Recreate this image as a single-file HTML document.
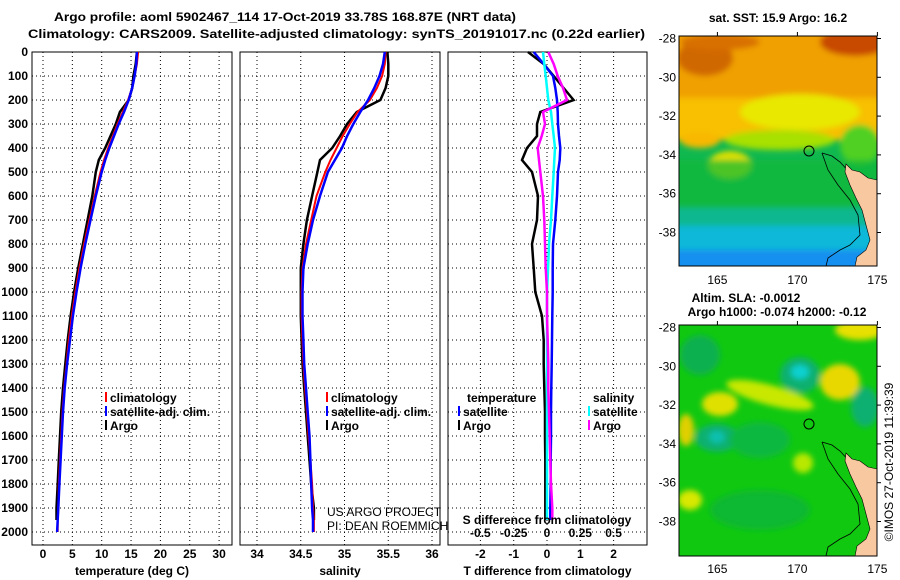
<!DOCTYPE html>
<html><head><meta charset="utf-8"><style>
html,body{margin:0;padding:0;background:#fff}
svg{display:block}
text{font-family:"Liberation Sans",sans-serif;font-weight:bold;font-size:12px;fill:#000}
.n{font-weight:normal}
</style></head><body>
<svg id="c" width="900" height="580" viewBox="0 0 900 580" xmlns="http://www.w3.org/2000/svg">
<defs>
<filter id="bl" x="-20%" y="-20%" width="140%" height="140%"><feGaussianBlur stdDeviation="3"/></filter>
<filter id="bl2" x="-20%" y="-20%" width="140%" height="140%"><feGaussianBlur stdDeviation="3"/></filter>
<clipPath id="m1"><rect x="679" y="36" width="198" height="230"/></clipPath>
<clipPath id="m2"><rect x="679" y="325" width="198" height="231"/></clipPath>
</defs>
<text x="285" y="21" text-anchor="middle" textLength="462" lengthAdjust="spacingAndGlyphs">Argo profile: aoml 5902467_114 17-Oct-2019 33.78S 168.87E (NRT data)</text>
<text x="28" y="38" textLength="617" lengthAdjust="spacingAndGlyphs">Climatology: CARS2009. Satellite-adjusted climatology: synTS_20191017.nc (0.22d earlier)</text>
<g id="plots"></g>
<!-- SST map -->
<g clip-path="url(#m1)">
<rect x="679" y="36" width="198" height="230" fill="#10b850"/>
<g filter="url(#bl)">
<rect x="660" y="20" width="240" height="82" fill="#f0a000"/>
<ellipse cx="855" cy="42" rx="35" ry="14" fill="#c84800"/>
<ellipse cx="705" cy="58" rx="28" ry="18" fill="#d06800"/>
<ellipse cx="720" cy="42" rx="40" ry="8" fill="#d87000"/>
<rect x="660" y="98" width="240" height="42" fill="#f8c000"/>
<ellipse cx="800" cy="112" rx="60" ry="18" fill="#e8e800"/>
<ellipse cx="780" cy="140" rx="55" ry="10" fill="#a8e000"/>
<ellipse cx="730" cy="165" rx="22" ry="14" fill="#e0e000"/>
<ellipse cx="700" cy="140" rx="20" ry="8" fill="#f8b800"/>
<ellipse cx="860" cy="145" rx="20" ry="20" fill="#50d020"/>
<rect x="660" y="160" width="240" height="50" fill="#10b838" opacity="0.7"/>
<rect x="660" y="208" width="240" height="22" fill="#10b890"/>
<rect x="660" y="226" width="240" height="50" fill="#10b8d8"/>
<rect x="660" y="250" width="240" height="30" fill="#1890f0"/>
</g>
<path d="M822,153 L832,156 L840,162 L852,175 L865,180 L877,183" fill="none" stroke="#000" stroke-width="0.8"/>
<path d="M822,153 L828,170 L838,185 L850,200 L858,215 L860,235 L850,245 L840,250 L828,258 L826,266" fill="none" stroke="#000" stroke-width="0.8"/>
<path d="M846,164 L852,170 L860,172 L868,178 L877,180 L877,266 L855,266 L857,257 L866,250 L870,240 L866,225 L862,210 L856,198 L850,185 L845,172 Z" fill="#f8c8a0" stroke="#000" stroke-width="0.6"/>
<circle cx="809" cy="151" r="5" fill="none" stroke="#000"/>
</g>
<rect x="679" y="36" width="198" height="230" fill="none" stroke="#000"/>
<!-- SLA map -->
<g clip-path="url(#m2)">
<rect x="679" y="325" width="198" height="231" fill="#10c810"/>
<g filter="url(#bl2)">
<ellipse cx="860" cy="330" rx="25" ry="10" fill="#e8e000"/>
<ellipse cx="840" cy="382" rx="20" ry="18" fill="#e8d800"/>
<ellipse cx="800" cy="375" rx="20" ry="18" fill="#10b070"/>
<ellipse cx="800" cy="372" rx="9" ry="7" fill="#10d0d0"/>
<ellipse cx="770" cy="395" rx="45" ry="10" fill="#c8e800" transform="rotate(15 770 395)"/>
<ellipse cx="720" cy="404" rx="18" ry="12" fill="#e0e000"/>
<ellipse cx="686" cy="430" rx="8" ry="16" fill="#e0d000"/>
<ellipse cx="717" cy="438" rx="22" ry="14" fill="#10b070"/>
<ellipse cx="717" cy="437" rx="8" ry="6" fill="#10c0b0"/>
<ellipse cx="865" cy="407" rx="14" ry="20" fill="#10b070"/>
<ellipse cx="690" cy="500" rx="12" ry="10" fill="#d8e800"/>
<ellipse cx="803" cy="463" rx="10" ry="10" fill="#b8e800"/>
<ellipse cx="760" cy="440" rx="30" ry="18" fill="#10b840"/>
<ellipse cx="760" cy="510" rx="50" ry="20" fill="#10b830"/>
<ellipse cx="700" cy="355" rx="20" ry="20" fill="#10b050"/>
</g>
<path d="M822,442 L832,445 L840,451 L852,464 L865,469 L877,472" fill="none" stroke="#000" stroke-width="0.8"/>
<path d="M822,442 L828,459 L838,474 L850,489 L858,504 L860,524 L850,534 L840,539 L828,547 L826,556" fill="none" stroke="#000" stroke-width="0.8"/>
<path d="M846,453 L852,459 L860,461 L868,467 L877,469 L877,556 L855,556 L857,546 L866,539 L870,529 L866,514 L862,499 L856,487 L850,474 L845,461 Z" fill="#f8c8a0" stroke="#000" stroke-width="0.6"/>
<circle cx="809" cy="424" r="5" fill="none" stroke="#000"/>
</g>
<rect x="679" y="325" width="198" height="231" fill="none" stroke="#000"/>
<g id="maplabels"></g>
<text x="778" y="22" text-anchor="middle">sat. SST: 15.9 Argo: 16.2</text>
<text x="746" y="302" text-anchor="middle">Altim. SLA: -0.0012</text>
<text x="777" y="316" text-anchor="middle">Argo h1000: -0.074 h2000: -0.12</text>
<text class="n" transform="translate(893,462) rotate(-90)" text-anchor="middle" font-size="12">©IMOS 27-Oct-2019 11:39:39</text>
</svg>
<script>
const depths=[0,50,100,150,200,250,300,350,400,450,500,600,700,800,900,1000,1100,1200,1300,1400,1500,1600,1700,1800,1900,1950,2000];
const tempClim=[16.2,16.0,15.6,15.2,14.5,13.6,12.7,11.9,11.1,10.4,9.8,8.8,7.9,7.0,6.2,5.5,4.9,4.4,4.0,3.6,3.3,3.1,2.9,2.7,2.6,2.5,2.5];
const tempSat=[16.0,15.9,15.6,15.2,14.6,13.8,12.9,12.1,11.3,10.6,10.0,9.0,8.1,7.2,6.4,5.7,5.1,4.6,4.1,3.7,3.4,3.2,3.0,2.8,2.6,2.5,2.4];
const tempArgo=[16.0,15.8,15.4,15.2,14.6,13.1,12.4,11.5,10.6,9.5,9.0,8.4,7.6,6.8,6.0,5.3,4.7,4.2,3.8,3.4,3.1,2.9,2.7,2.5,2.3,2.3,null];
const salClim=[35.47,35.46,35.43,35.37,35.29,35.15,35.06,34.98,34.91,34.84,34.78,34.68,34.62,34.56,34.52,34.51,34.51,34.52,34.53,34.55,34.57,34.59,34.61,34.63,34.64,34.65,34.65];
const salSat=[35.46,35.44,35.40,35.34,35.27,35.18,35.10,35.03,34.97,34.89,34.81,34.72,34.64,34.58,34.53,34.52,34.52,34.53,34.54,34.56,34.58,34.60,34.61,34.62,34.63,34.64,34.64];
const salArgo=[35.49,35.5,35.5,35.47,35.41,35.14,35.03,34.95,34.86,34.72,34.69,34.63,34.57,34.53,34.50,34.50,34.50,34.51,34.52,34.54,34.56,34.58,34.60,34.62,34.65,34.65,null];
const tDiffArgo=[-0.57,-0.1,0.2,0.5,0.8,-0.2,-0.3,-0.3,-0.6,-0.75,-0.45,-0.27,-0.3,-0.45,-0.4,-0.35,-0.15,-0.1,-0.1,-0.08,-0.06,-0.06,-0.05,-0.05,-0.05,-0.05,null];
const tDiffSat=[-0.4,-0.1,0.18,0.25,0.3,0.32,0.33,0.36,0.4,0.38,0.33,0.3,0.25,0.18,0.17,0.17,0.16,0.15,0.14,0.13,0.12,0.12,0.11,0.11,0.1,0.1,null];
const sDiffSat=[-0.03,-0.02,-0.01,0.0,0.01,0.03,0.04,0.05,0.06,0.055,0.05,0.04,0.03,0.015,0.008,0.0,0.0,0.0,0.0,0.0,0.0,0.0,0.0,0.0,0.0,0.0,null];
const sDiffArgo=[0.01,0.05,0.08,0.12,0.15,-0.03,-0.015,-0.04,-0.07,-0.06,-0.05,-0.03,-0.02,-0.015,-0.01,0.0,0.0,0.005,0.01,0.01,0.015,0.02,0.025,0.03,0.04,0.04,null];
const depthTicks=[0,100,200,300,400,500,600,700,800,900,1000,1100,1200,1300,1400,1500,1600,1700,1800,1900,2000];
const tempTicks=[0,5,10,15,20,25,30];
const salTicks=[34,34.5,35,35.5,36];
const tDiffTicks=[-2,-1,0,1,2];
const sDiffTicks=[-0.5,-0.25,0,0.25,0.5];
const lonTicks=[165,170,175];
const latTicks=[-28,-30,-32,-34,-36,-38];

const NS='http://www.w3.org/2000/svg';
const root=document.getElementById('plots');
function mk(tag,attrs,parent){const e=document.createElementNS(NS,tag);for(const k in attrs)e.setAttribute(k,attrs[k]);(parent||root).appendChild(e);return e;}
const yD=d=>52+d*0.24;
const TOP=52,BOT=545;
const panels=[
 {x0:32,x1:232,sx:v=>43+v*5.87,ticks:tempTicks,label:'temperature (deg C)',name:'temperature'},
 {x0:240,x1:440,sx:v=>257+(v-34)*87.5,ticks:salTicks,label:'salinity',name:'salinity'},
 {x0:448,x1:647,sx:v=>547+v*33.3,ticks:tDiffTicks,label:'T difference from climatology',name:'difference'}
];
const fmt=v=>(v<0?'-':'')+String(Math.abs(v)).replace(/^0\./,'0.');
panels.forEach((p,i)=>{
 const g=mk('g',{});
 
 
 depthTicks.forEach(d=>{const l=mk('line',{x1:p.x0,x2:p.x1,y1:yD(d),y2:yD(d),stroke:'#000','stroke-dasharray':'1,3'},g);
  });
 p.ticks.forEach(v=>{const x=p.sx(v);const l=mk('line',{x1:x,x2:x,y1:TOP,y2:BOT,stroke:'#000','stroke-dasharray':'1,3'},g);
  
  const t=mk('text',{x:x,y:558,'text-anchor':'middle'},g);t.textContent=String(v);
  });
 const r=mk('rect',{x:p.x0,y:TOP,width:p.x1-p.x0,height:BOT-TOP,fill:'none',stroke:'#000'},g);
 
 const xl=mk('text',{x:(p.x0+p.x1)/2,y:575,'text-anchor':'middle'},g);xl.textContent=p.label;
 
 p.g=g;
});
depthTicks.forEach(d=>{const t=mk('text',{x:28,y:yD(d)+4,'text-anchor':'end'});t.textContent=String(d);
 });
function line(vals,sx,color,w,name){
 let d='';let started=false;
 vals.forEach((v,i)=>{if(v===null)return;d+=(started?'L':'M')+sx(v).toFixed(1)+','+yD(depths[i]).toFixed(1);started=true;});
 const p=mk('path',{d:d,fill:'none',stroke:color,'stroke-width':w});
 
}
const P=panels;
line(tempArgo,P[0].sx,'#000',2.5,'temp-argo-line');
line(tempClim,P[0].sx,'#f00',2,'temp-climatology-line');
line(tempSat,P[0].sx,'#00f',2.5,'temp-satellite-line');
line(salArgo,P[1].sx,'#000',2.5,'sal-argo-line');
line(salClim,P[1].sx,'#f00',2,'sal-climatology-line');
line(salSat,P[1].sx,'#00f',2.5,'sal-satellite-line');
const sxS=v=>547+v*133.2;
line(tDiffArgo,P[2].sx,'#000',2.5,'tdiff-argo-line');
line(tDiffSat,P[2].sx,'#00f',2.5,'tdiff-satellite-line');
line(sDiffSat,sxS,'#0ff',2.5,'sdiff-satellite-line');
line(sDiffArgo,sxS,'#f0f',2.5,'sdiff-argo-line');
sDiffTicks.forEach(v=>{const t=mk('text',{x:sxS(v),y:537,'text-anchor':'middle'});t.textContent=fmt(v);
 });
const sl=mk('text',{x:547,y:524,'text-anchor':'middle'});sl.textContent='S difference from climatology';

function legend(x,y,color,label){
 const l=mk('line',{x1:x,x2:x,y1:y-10,y2:y,stroke:color,'stroke-width':2});
 
 const t=mk('text',{x:x+4,y:y});t.textContent=label;
 
}
[[106,'#f00','climatology',402],[106,'#00f','satellite-adj. clim.',416],[106,'#000','Argo',430]].forEach(a=>legend(a[0],a[3],a[1],a[2]));
[[327,'#f00','climatology',402],[327,'#00f','satellite-adj. clim.',416],[327,'#000','Argo',430]].forEach(a=>legend(a[0],a[3],a[1],a[2]));
[[459,'#00f','satellite',416],[459,'#000','Argo',430],[589,'#0ff','satellite',416],[589,'#f0f','Argo',430]].forEach(a=>legend(a[0],a[3],a[1],a[2]));
const th=mk('text',{x:467,y:402});th.textContent='temperature';
const sh=mk('text',{x:593,y:402});sh.textContent='salinity';
const c1=mk('text',{x:327,y:516,class:'n'});c1.textContent='US ARGO PROJECT';
const c2=mk('text',{x:327,y:530,class:'n'});c2.textContent='PI: DEAN ROEMMICH';
// map labels
const ml=document.getElementById('maplabels');
const lonX=v=>679+(v-162.6)*16;
[[36,266,284],[325,556,573]].forEach(m=>{
 const latY=v=>m[0]+2.5+(-28-v)*19.4;
 lonTicks.forEach(v=>{const t=mk('text',{x:lonX(v),y:m[2],'text-anchor':'middle',class:'n','font-size':'13'},ml);t.textContent=String(v);
  
  mk('line',{x1:lonX(v),x2:lonX(v),y1:m[0]-4,y2:m[0],stroke:'#000'},ml);});
 latTicks.forEach(v=>{const t=mk('text',{x:676,y:latY(v)+4,'text-anchor':'end',class:'n'},ml);t.textContent=String(v);
  
  mk('line',{x1:877,x2:881,y1:latY(v),y2:latY(v),stroke:'#000'},ml);});
});
</script>
</body></html>
